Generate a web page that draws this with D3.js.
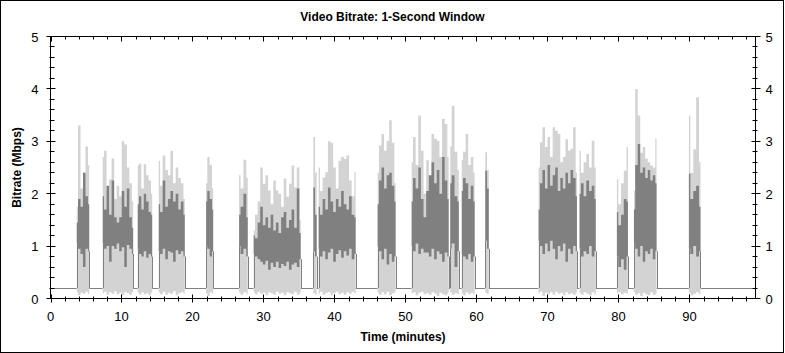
<!DOCTYPE html>
<html>
<head>
<meta charset="utf-8">
<script src="https://cdn.jsdelivr.net/npm/d3@7"></script>
<style>
  body { margin: 0; background: #fff; }
  svg { display: block; font-family: "Liberation Sans", Arial, sans-serif; }
</style>
</head>
<body>
<div class="chart"></div>
<script>
// segments where video is present (minutes)
const segStart = [3.70, 7.36, 12.29, 15.25, 21.92, 26.57, 28.62, 37.03, 37.77, 46.08, 50.87, 56.31, 57.93, 61.24, 68.75, 74.52, 79.78, 82.18, 89.92];
const segEnd   = [5.45, 11.64, 14.32, 18.91, 22.91, 27.78, 35.24, 37.49, 42.98, 48.61, 56.08, 57.51, 59.74, 61.73, 74.15, 76.80, 81.33, 85.36, 91.55];

// light grey envelope top (Mbps)
const peakMbps = [
  [1.75, 3.30, 2.10, 2.40, 2.90, 2.55],
  [2.70, 2.82, 2.05, 2.27, 2.67, 1.90, 2.15, 1.95, 3.00, 2.94, 2.50, 2.20, 1.85],
  [2.54, 2.57, 2.10, 2.56, 2.35, 2.25, 2.00],
  [2.63, 2.15, 2.73, 2.45, 2.35, 2.82, 2.20, 2.50, 2.30, 2.20, 1.90],
  [2.20, 2.70, 2.55, 2.10],
  [2.35, 2.10, 2.65, 2.30],
  [1.30, 1.60, 1.85, 2.50, 2.19, 2.35, 2.06, 1.80, 2.25, 2.06, 2.00, 1.75, 2.29, 1.94, 2.19, 2.54, 2.12, 2.50, 1.50],
  [3.08, 2.40],
  [2.50, 2.05, 2.31, 2.41, 3.00, 2.97, 2.50, 2.10, 2.63, 2.70, 2.66, 2.73, 2.25, 1.95, 2.41],
  [2.40, 2.92, 3.14, 2.82, 3.01, 3.40, 2.97, 2.20],
  [2.60, 3.08, 2.55, 3.49, 2.82, 2.00, 2.64, 2.30, 3.14, 3.05, 3.01, 2.70, 3.43, 3.33, 2.70],
  [2.90, 3.68, 2.80, 2.45],
  [2.65, 2.80, 3.14, 2.55, 2.70, 2.40],
  [2.79, 2.45],
  [2.50, 2.98, 3.27, 2.89, 3.08, 2.70, 3.27, 3.20, 3.14, 2.60, 2.70, 3.04, 2.82, 2.86, 3.27, 2.40],
  [2.82, 2.40, 2.60, 2.76, 2.50, 3.01, 2.50],
  [2.28, 1.80, 2.20, 2.44, 2.89],
  [2.06, 4.00, 3.49, 2.78, 2.89, 2.67, 2.60, 2.54, 2.50, 3.05],
  [3.49, 2.40, 2.85, 3.84, 2.60]
];

// light grey envelope bottom (Mbps)
const floorMbps = [
  [0.12, 0.06, 0.11, 0.09, 0.13, 0.08],
  [0.10, 0.13, 0.07, 0.12, 0.09, 0.14, 0.08, 0.11, 0.06, 0.12, 0.10, 0.07, 0.12],
  [0.11, 0.07, 0.12, 0.08, 0.10, 0.06, 0.11],
  [0.12, 0.08, 0.13, 0.07, 0.11, 0.09, 0.14, 0.06, 0.10, 0.12, 0.09],
  [0.10, 0.05, 0.12, 0.08],
  [0.11, 0.07, 0.12, 0.09],
  [0.12, 0.08, 0.13, 0.09, 0.11, 0.06, 0.12, 0.10, 0.07, 0.13, 0.09, 0.11, 0.06, 0.12, 0.10, 0.08, 0.13, 0.07, 0.11],
  [0.10, 0.07],
  [0.09, 0.13, 0.07, 0.11, 0.12, 0.06, 0.10, 0.13, 0.08, 0.11, 0.07, 0.12, 0.09, 0.13, 0.10],
  [0.11, 0.07, 0.12, 0.08, 0.13, 0.06, 0.10, 0.12],
  [0.09, 0.12, 0.06, 0.11, 0.13, 0.08, 0.10, 0.07, 0.12, 0.09, 0.05, 0.11, 0.08, 0.06, 0.10],
  [0.12, 0.07, 0.10, 0.08],
  [0.10, 0.06, 0.12, 0.08, 0.11, 0.07],
  [0.11, 0.08],
  [0.10, 0.13, 0.05, 0.11, 0.08, 0.12, 0.07, 0.13, 0.09, 0.11, 0.06, 0.12, 0.08, 0.10, 0.07, 0.12],
  [0.11, 0.07, 0.12, 0.09, 0.06, 0.12, 0.08],
  [0.10, 0.12, 0.08, 0.11, 0.09],
  [0.12, 0.07, 0.10, 0.05, 0.11, 0.08, 0.06, 0.12, 0.07, 0.09],
  [0.11, 0.06, 0.09, 0.12, 0.08]
];

// dark grey band top / bottom (Mbps)
const highMbps = [
  [1.45, 1.90, 1.75, 2.40, 1.95, 1.80],
  [1.95, 1.70, 2.15, 1.60, 2.25, 1.55, 1.45, 1.55, 2.05, 1.75, 2.10, 1.55, 1.35],
  [1.80, 1.95, 1.70, 2.00, 1.85, 1.65, 1.60],
  [1.80, 1.65, 2.25, 1.75, 1.90, 2.05, 1.85, 2.00, 1.70, 1.85, 1.60],
  [1.85, 2.05, 1.90, 1.70],
  [1.60, 1.75, 2.00, 1.55],
  [1.20, 1.15, 1.45, 1.75, 1.40, 1.55, 1.35, 1.60, 1.30, 1.45, 1.25, 1.55, 1.65, 1.35, 1.50, 1.70, 1.35, 2.10, 1.25],
  [2.12, 1.60],
  [1.75, 1.60, 1.90, 1.70, 2.12, 1.85, 1.65, 1.90, 1.75, 2.05, 1.80, 1.70, 1.95, 1.60, 1.55],
  [1.80, 2.25, 2.50, 2.10, 2.35, 2.40, 2.15, 1.85],
  [1.85, 2.30, 2.10, 2.50, 1.90, 1.55, 2.05, 2.35, 2.60, 2.20, 2.45, 2.00, 2.70, 2.25, 1.90],
  [2.20, 2.35, 1.95, 1.85],
  [2.05, 2.30, 2.20, 1.90, 2.15, 1.85],
  [2.44, 2.10],
  [1.70, 2.20, 2.45, 2.10, 2.55, 2.15, 2.35, 2.50, 2.05, 2.30, 2.10, 2.40, 2.20, 2.45, 2.30, 1.95],
  [2.00, 2.20, 1.95, 2.25, 2.05, 2.15, 1.90],
  [1.65, 1.40, 1.60, 1.90, 1.85],
  [1.70, 2.55, 2.95, 2.40, 2.50, 2.30, 2.45, 2.25, 2.35, 2.20],
  [2.38, 1.90, 2.05, 2.15, 1.75]
];
const lowMbps = [
  [1.05, 0.95, 0.85, 0.60, 0.95, 0.90],
  [1.05, 0.95, 1.00, 0.70, 1.00, 0.95, 1.05, 0.90, 0.98, 0.60, 1.02, 0.95, 0.85],
  [0.95, 0.85, 0.80, 0.90, 0.78, 0.85, 0.80],
  [0.90, 0.85, 0.95, 0.75, 0.90, 0.88, 0.70, 0.92, 0.85, 0.90, 0.80],
  [1.00, 0.95, 0.80, 0.90],
  [1.00, 0.85, 0.95, 0.80],
  [0.85, 0.80, 0.75, 0.70, 0.65, 0.72, 0.55, 0.68, 0.60, 0.70, 0.58, 0.66, 0.62, 0.70, 0.55, 0.65, 0.68, 0.60, 0.75],
  [0.90, 0.80],
  [0.95, 0.80, 0.90, 0.75, 0.88, 0.95, 0.70, 0.85, 0.92, 0.78, 0.90, 0.82, 0.95, 0.75, 0.85],
  [1.00, 0.90, 0.75, 0.95, 0.65, 0.85, 0.70, 0.80],
  [1.00, 0.90, 1.05, 0.85, 0.95, 0.88, 0.88, 0.80, 0.95, 0.75, 0.90, 0.85, 0.70, 0.88, 0.80],
  [0.95, 1.05, 0.60, 0.90],
  [0.85, 0.80, 0.75, 0.85, 0.70, 0.80],
  [1.10, 0.95],
  [1.10, 1.00, 0.85, 1.05, 0.90, 1.10, 0.95, 0.75, 1.00, 0.90, 1.05, 0.70, 0.95, 0.85, 1.00, 0.90],
  [0.95, 0.80, 0.90, 0.85, 1.00, 0.80, 0.90],
  [0.80, 0.60, 0.75, 0.55, 0.80],
  [1.05, 0.95, 0.80, 1.00, 0.70, 0.90, 0.85, 0.95, 0.75, 0.90],
  [0.95, 0.85, 1.00, 0.80, 0.90]
];

const idleMbps = 0.2;   // flat level between segments
const xTicks = [0, 10, 20, 30, 40, 50, 60, 70, 80, 90];
const yTicks = [0, 1, 2, 3, 4, 5];

const W = 785, H = 353;
const xMax = 99.3;
const svg = d3.select(".chart").append("svg")
    .attr("width", W)
    .attr("height", H);

// outer frame
svg.append("rect")
    .attr("x", 0.5).attr("y", 0.5)
    .attr("width", W - 2).attr("height", H - 1)
    .attr("fill", "none").attr("stroke", "#000");

const xScale = d3.scaleLinear().domain([0, xMax]).range([50.5, 755.5]);
const yScale = d3.scaleLinear().domain([0, 5]).range([298.5, 36.5]);

// spread the samples of a segment evenly across it
function samples(i, top, bottom) {
    const n = top.length;
    return top.map((v, k) => ({
        t: segStart[i] + (segEnd[i] - segStart[i]) * k / (n - 1),
        hi: v,
        lo: bottom[k]
    }));
}

const plot = svg.append("g");

// idle baseline in the gaps
const gapStarts = [0].concat(segEnd);
const gapEnds = segStart.concat([xMax]);
plot.selectAll(".idle")
    .data(gapStarts)
    .join("line")
    .attr("class", "idle")
    .attr("x1", d => xScale(d))
    .attr("x2", (d, i) => xScale(gapEnds[i]))
    .attr("y1", Math.round(yScale(idleMbps)) + 0.5)
    .attr("y2", Math.round(yScale(idleMbps)) + 0.5)
    .attr("stroke", "#808080");

const band = d3.area()
    .curve(d3.curveStep)
    .x(d => xScale(d.t))
    .y0(d => yScale(d.lo))
    .y1(d => yScale(d.hi));

// light envelope
plot.selectAll(".light")
    .data(segStart.map((s, i) => samples(i, peakMbps[i], floorMbps[i])))
    .join("path")
    .attr("class", "light")
    .attr("fill", "#d3d3d3")
    .attr("d", band);

// dark band
plot.selectAll(".dark")
    .data(segStart.map((s, i) => samples(i, highMbps[i], lowMbps[i])))
    .join("path")
    .attr("class", "dark")
    .attr("fill", "#808080")
    .attr("d", band);

// segment edges: from idle level up to the band
const edges = [];
segStart.forEach((s, i) => {
    edges.push({t: s, v: lowMbps[i][0]});
    edges.push({t: segEnd[i], v: lowMbps[i][lowMbps[i].length - 1]});
});
plot.selectAll(".edge")
    .data(edges)
    .join("line")
    .attr("class", "edge")
    .attr("x1", d => Math.round(xScale(d.t)) + 0.5)
    .attr("x2", d => Math.round(xScale(d.t)) + 0.5)
    .attr("y1", yScale(idleMbps))
    .attr("y2", d => yScale(d.v))
    .attr("stroke", "#808080");

// axes frame
const axes = svg.append("g").attr("stroke", "#000").attr("fill", "none");
axes.append("rect")
    .attr("x", xScale(0)).attr("y", yScale(5))
    .attr("width", xScale(xMax) - xScale(0))
    .attr("height", yScale(0) - yScale(5));

const xMinor = d3.range(0, xMax, 2).filter(v => v % 10 !== 0);
const yMinor = d3.range(0, 5, 0.2).filter(v => Math.abs(v - Math.round(v)) > 0.01);

function vTicks(vals, y, up, down) {
    axes.append("g").selectAll("line")
        .data(vals)
        .join("line")
        .attr("x1", d => Math.round(xScale(d)) + 0.5)
        .attr("x2", d => Math.round(xScale(d)) + 0.5)
        .attr("y1", y - up)
        .attr("y2", y + down);
}
function hTicks(vals, x, left, right) {
    axes.append("g").selectAll("line")
        .data(vals)
        .join("line")
        .attr("y1", d => Math.round(yScale(d) - 0.5) + 0.5)
        .attr("y2", d => Math.round(yScale(d) - 0.5) + 0.5)
        .attr("x1", x - left)
        .attr("x2", x + right);
}
vTicks(xTicks, yScale(0), 4, 4);
vTicks(xMinor, yScale(0), 2, 3);
vTicks(xTicks, yScale(5), 0, 5);
vTicks(xMinor, yScale(5), 0, 3);
hTicks(yTicks, xScale(0), 4, 5);
hTicks(yMinor, xScale(0), 1, 4);
hTicks(yTicks, xScale(xMax), 4, 5);
hTicks(yMinor, xScale(xMax), 3, 2);

// tick labels
svg.append("g").selectAll("text")
    .data(xTicks)
    .join("text")
    .attr("x", d => xScale(d))
    .attr("y", yScale(0) + 22)
    .attr("text-anchor", "middle")
    .attr("font-size", 13)
    .text(d => d);

svg.append("g").selectAll("text")
    .data(yTicks)
    .join("text")
    .attr("x", xScale(0) - 12)
    .attr("y", d => yScale(d) + 5)
    .attr("text-anchor", "end")
    .attr("font-size", 13)
    .text(d => d);

svg.append("g").selectAll("text")
    .data(yTicks)
    .join("text")
    .attr("x", xScale(xMax) + 10)
    .attr("y", d => yScale(d) + 5)
    .attr("text-anchor", "start")
    .attr("font-size", 13)
    .text(d => d);

// titles
svg.append("text")
    .attr("x", W / 2)
    .attr("y", 21)
    .attr("text-anchor", "middle")
    .attr("font-size", 12)
    .attr("font-weight", "bold")
    .text("Video Bitrate: 1-Second Window");

svg.append("text")
    .attr("x", (xScale(0) + xScale(xMax)) / 2)
    .attr("y", 341)
    .attr("text-anchor", "middle")
    .attr("font-size", 12)
    .attr("font-weight", "bold")
    .text("Time (minutes)");

svg.append("text")
    .attr("transform", "translate(21," + (yScale(0) + yScale(5)) / 2 + ") rotate(-90)")
    .attr("text-anchor", "middle")
    .attr("font-size", 12)
    .attr("font-weight", "bold")
    .text("Bitrate (Mbps)");
</script>
</body>
</html>
